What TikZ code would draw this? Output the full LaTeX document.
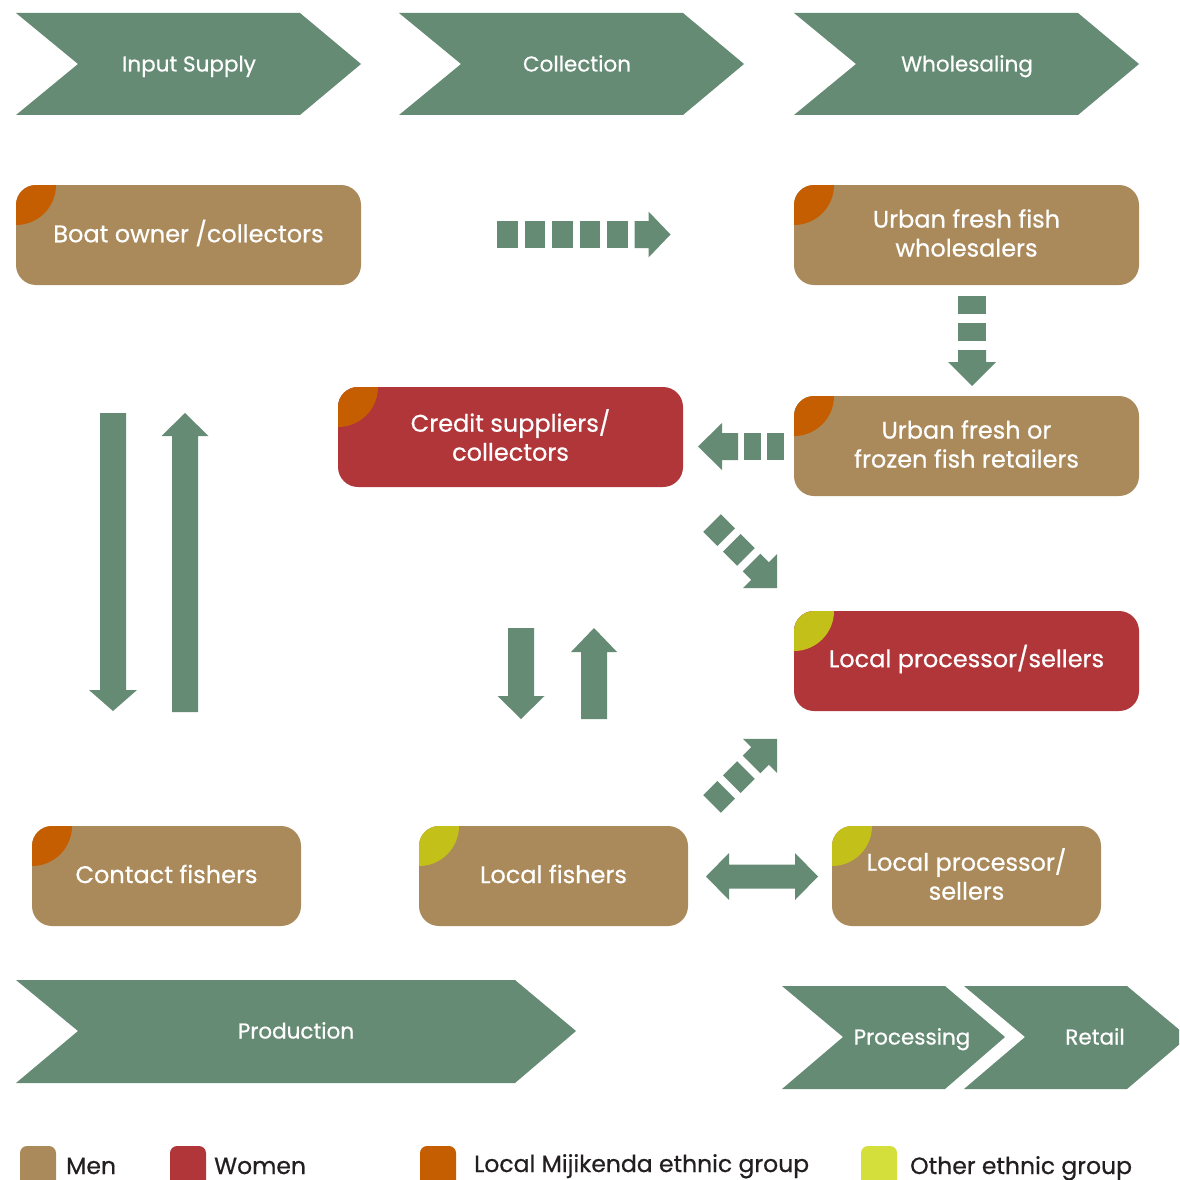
\documentclass[tikz,border=0pt]{standalone}
\usepackage{fontspec}
\setmainfont{Poppins}
\newfontfamily\labelfont{Poppins}[FakeBold=0.6]
\usetikzlibrary{calc}

\definecolor{flowgreen}{HTML}{668B74}
\definecolor{mentan}{HTML}{AA8A5A}
\definecolor{womenred}{HTML}{B0363A}
\definecolor{mijiorange}{HTML}{C55E00}
\definecolor{otherlime}{HTML}{C4C01A}
\definecolor{legendlime}{HTML}{D5DF3B}
\definecolor{legendtext}{HTML}{231F20}

\tikzset{
  chev/.style={fill=flowgreen},
  chevtext/.style={anchor=base, inner sep=0pt, text=white,
    font=\labelfont\fontsize{21.5}{24}\selectfont},
  actor/.style={rounded corners=20pt, minimum height=100pt, inner sep=0pt},
  actortext/.style={text=white, align=center, inner sep=0pt, yshift=2pt,
    font=\labelfont\fontsize{24}{29}\selectfont},
  men/.style={actor, fill=mentan},
  women/.style={actor, fill=womenred},
  wide/.style={minimum width=345pt},
  narrow/.style={minimum width=269pt},
  miji/.style={path picture={\fill[mijiorange]
    (path picture bounding box.north west) circle[radius=40pt];}},
  other/.style={path picture={\fill[otherlime]
    (path picture bounding box.north west) circle[radius=40pt];}},
  says/.style={label={[actortext]center:{#1}}},
  legendbox/.style={rounded corners=7pt},
  legendlabel/.style={anchor=base west, inner sep=0pt, text=legendtext,
    font=\labelfont\fontsize{23.5}{26}\selectfont},
  % solid block arrow along +x: length / shaft half-width / head half-width / head length
  pics/blockarrow/.style args={#1/#2/#3/#4}{code={
    \fill[flowgreen] (0,-#2) -- ({#1-#4},-#2) -- ({#1-#4},-#3) -- (#1,0)
      -- ({#1-#4},#3) -- ({#1-#4},#2) -- (0,#2) -- cycle;}},
  % broken block arrow: squares / square length / gap / half-width / arrow length / head half-width / head length
  pics/brokenarrow/.style args={#1/#2/#3/#4/#5/#6/#7}{code={
    \foreach \k in {1,...,#1}
      {\fill[flowgreen] ({(\k-1)*(#2+#3)},-#4) rectangle ++(#2,{2*#4});}
    \fill[flowgreen] ({#1*(#2+#3)},-#4) -- ({#1*(#2+#3)+#5-#7},-#4)
      -- ({#1*(#2+#3)+#5-#7},-#6) -- ({#1*(#2+#3)+#5},0)
      -- ({#1*(#2+#3)+#5-#7},#6) -- ({#1*(#2+#3)+#5-#7},#4)
      -- ({#1*(#2+#3)},#4) -- cycle;}}
}

\begin{document}
\begin{tikzpicture}[x=1pt,y=-1pt]
\clip (0,0) rectangle (1179,1180);
\fill[white] (0,0) rectangle (1179,1180);

% stage chevrons
\fill[chev] (16,13) -- (300,13) -- (361,64) -- (300,115) -- (16,115) -- (78,64) -- cycle;
\node[chevtext] (input) at (189,71.5) {Input Supply};
\fill[chev] (399,13) -- (683,13) -- (744,64) -- (683,115) -- (399,115) -- (461,64) -- cycle;
\node[chevtext] (collection) at (577,71.5) {Collection};
\fill[chev] (794,13) -- (1078,13) -- (1139,64) -- (1078,115) -- (794,115) -- (856,64) -- cycle;
\node[chevtext] (wholesaling) at (967,71.5) {Wholesaling};
\fill[chev] (16,980) -- (515,980) -- (576,1031) -- (515,1083) -- (16,1083) -- (78,1031) -- cycle;
\node[chevtext] (production) at (296,1038.5) {Production};
\fill[chev] (782,986) -- (945,986) -- (1005,1037) -- (945,1089) -- (782,1089) -- (843,1037) -- cycle;
\node[chevtext] (processing) at (912,1044.5) {Processing};
\fill[chev] (964,986) -- (1127,986) -- (1188,1037) -- (1127,1089) -- (964,1089) -- (1025,1037) -- cycle;
\node[chevtext] (retail) at (1095,1044.5) {Retail};

% actors
\node[men, wide, miji, says={Boat owner /collectors}] (boat) at (188.5,235) {};
\node[men, wide, miji, says={Urban fresh fish\\wholesalers}] (wholesalers) at (966.5,235) {};
\node[women, wide, miji, says={Credit suppliers/\\collectors}] (credit) at (510.5,437) {};
\node[men, wide, miji, says={Urban fresh or\\frozen fish retailers}] (retailers) at (966.5,446) {};
\node[women, wide, other, says={Local processor/sellers}] (procred) at (966.5,661) {};
\node[men, narrow, miji, says={Contact fishers}] (contact) at (166.5,876) {};
\node[men, narrow, other, says={Local fishers}] (localfish) at (553.5,876) {};
\node[men, narrow, other, says={Local processor/\\sellers}] (proctan) at (966.5,876) {};

% flows
\coordinate (boatflow) at (497,234.5);
\coordinate (wsflow) at (972,296);
\coordinate (retflow) at (784,446.5);
\coordinate (credflow) at (712,523);
\coordinate (fishflow) at (712,804);
\coordinate (leftdown) at (113,413);
\coordinate (leftup) at (185,712);
\coordinate (middown) at (521,628);
\coordinate (midup) at (594,719);

\pic at (boatflow) {brokenarrow=5/20.5/7/13.5/36/23/22};
\pic[rotate=-90] at (wsflow) {brokenarrow=2/18/9/14/36/24/24};
\pic[rotate=180] at (retflow) {brokenarrow=2/17/6/13.5/40/23.5/24};
\pic[rotate=-45] at (credflow) {brokenarrow=2/20/8/12.5/36/24/24};
\pic[rotate=45] at (fishflow) {brokenarrow=2/20/8/12.5/36/24/24};

\pic[rotate=-90] at (leftdown) {blockarrow=298/13/24/21};
\pic[rotate=90] at (leftup) {blockarrow=299/13/23.5/23};
\pic[rotate=-90] at (middown) {blockarrow=91/13/23.5/23};
\pic[rotate=90] at (midup) {blockarrow=91/13/23/24};

% two-way exchange between local fishers and processors
\coordinate (xl) at (706,876.5);
\coordinate (xr) at (818,876.5);
\fill[flowgreen] (xl) -- ++(23,-23.5) -- ++(0,11.5) -- ++(66,0) -- ++(0,-11.5)
  -- (xr) -- ++(-23,23.5) -- ++(0,-11.5) -- ++(-66,0) -- ++(0,11.5) -- cycle;

% legend
\fill[mentan, legendbox] (20,1146) rectangle (56,1200);
\node[legendlabel] (lmen) at (66,1174) {Men};
\fill[womenred, legendbox] (170,1146) rectangle (206,1200);
\node[legendlabel] (lwomen) at (214,1174) {Women};
\fill[mijiorange, legendbox] (420,1146) rectangle (456,1200);
\node[legendlabel] (lmiji) at (474,1172) {Local Mijikenda ethnic group};
\fill[legendlime, legendbox] (861,1146) rectangle (897,1200);
\node[legendlabel] (lother) at (910,1174) {Other ethnic group};
\end{tikzpicture}
\end{document}
